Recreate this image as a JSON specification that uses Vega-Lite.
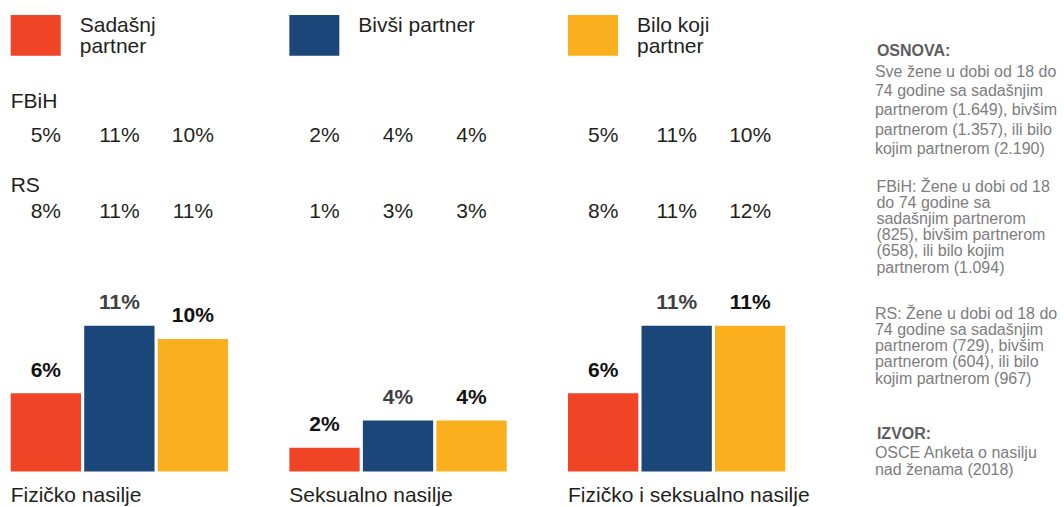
{
  "$schema": "https://vega.github.io/schema/vega-lite/v6.json",
  "width": 1064,
  "height": 507,
  "padding": 0,
  "autosize": {"type": "none"},
  "background": "white",
  "config": {"view": {"stroke": null}, "font": "Liberation Sans", "axis": {"disable": true}},
  "datasets": {
    "nasilje": [
      {"group": "Fizičko nasilje", "partner": "Sadašnji partner", "value": 0.059},
      {"group": "Fizičko nasilje", "partner": "Bivši partner", "value": 0.11},
      {"group": "Fizičko nasilje", "partner": "Bilo koji partner", "value": 0.10},
      {"group": "Seksualno nasilje", "partner": "Sadašnji partner", "value": 0.018},
      {"group": "Seksualno nasilje", "partner": "Bivši partner", "value": 0.0385},
      {"group": "Seksualno nasilje", "partner": "Bilo koji partner", "value": 0.0385},
      {"group": "Fizičko i seksualno nasilje", "partner": "Sadašnji partner", "value": 0.059},
      {"group": "Fizičko i seksualno nasilje", "partner": "Bivši partner", "value": 0.11},
      {"group": "Fizičko i seksualno nasilje", "partner": "Bilo koji partner", "value": 0.11}
    ],
    "regije": [
      {"region": "FBiH", "group": "Fizičko nasilje", "partner": "Sadašnji partner", "value": 0.05},
      {"region": "FBiH", "group": "Fizičko nasilje", "partner": "Bivši partner", "value": 0.11},
      {"region": "FBiH", "group": "Fizičko nasilje", "partner": "Bilo koji partner", "value": 0.10},
      {"region": "FBiH", "group": "Seksualno nasilje", "partner": "Sadašnji partner", "value": 0.02},
      {"region": "FBiH", "group": "Seksualno nasilje", "partner": "Bivši partner", "value": 0.04},
      {"region": "FBiH", "group": "Seksualno nasilje", "partner": "Bilo koji partner", "value": 0.04},
      {"region": "FBiH", "group": "Fizičko i seksualno nasilje", "partner": "Sadašnji partner", "value": 0.05},
      {"region": "FBiH", "group": "Fizičko i seksualno nasilje", "partner": "Bivši partner", "value": 0.11},
      {"region": "FBiH", "group": "Fizičko i seksualno nasilje", "partner": "Bilo koji partner", "value": 0.10},
      {"region": "RS", "group": "Fizičko nasilje", "partner": "Sadašnji partner", "value": 0.08},
      {"region": "RS", "group": "Fizičko nasilje", "partner": "Bivši partner", "value": 0.11},
      {"region": "RS", "group": "Fizičko nasilje", "partner": "Bilo koji partner", "value": 0.11},
      {"region": "RS", "group": "Seksualno nasilje", "partner": "Sadašnji partner", "value": 0.01},
      {"region": "RS", "group": "Seksualno nasilje", "partner": "Bivši partner", "value": 0.03},
      {"region": "RS", "group": "Seksualno nasilje", "partner": "Bilo koji partner", "value": 0.03},
      {"region": "RS", "group": "Fizičko i seksualno nasilje", "partner": "Sadašnji partner", "value": 0.08},
      {"region": "RS", "group": "Fizičko i seksualno nasilje", "partner": "Bivši partner", "value": 0.11},
      {"region": "RS", "group": "Fizičko i seksualno nasilje", "partner": "Bilo koji partner", "value": 0.12}
    ],
    "legenda": [
      {"partner": "Sadašnji partner", "label": "Sadašnj\npartner"},
      {"partner": "Bivši partner", "label": "Bivši partner"},
      {"partner": "Bilo koji partner", "label": "Bilo koji\npartner"}
    ],
    "napomene": [
      {"block": "osnova", "text": "OSNOVA:"},
      {"block": "osnova_tekst", "text": "Sve žene u dobi od 18 do\n74 godine sa sadašnjim\npartnerom (1.649), bivšim\npartnerom (1.357), ili bilo\nkojim partnerom (2.190)"},
      {"block": "fbih", "text": "FBiH: Žene u dobi od 18\ndo 74 godine sa\nsadašnjim partnerom\n(825), bivšim partnerom\n(658), ili bilo kojim\npartnerom (1.094)"},
      {"block": "rs", "text": "RS: Žene u dobi od 18 do\n74 godine sa sadašnjim\npartnerom (729), bivšim\npartnerom (604), ili bilo\nkojim partnerom (967)"},
      {"block": "izvor", "text": "IZVOR:"},
      {"block": "izvor_tekst", "text": "OSCE Anketa o nasilju\nnad ženama (2018)"}
    ]
  },
  "resolve": {"scale": {"x": "independent", "y": "independent"}},
  "layer": [
    {
      "data": {"name": "legenda"},
      "encoding": {
        "x": {"field": "partner", "type": "nominal", "scale": {"type": "point", "domain": ["Sadašnji partner", "Bivši partner", "Bilo koji partner"], "range": [10.7, 568], "padding": 0}, "axis": null},
        "y": {"datum": "legenda", "type": "nominal", "scale": {"type": "point", "range": [31.7, 31.7]}, "axis": null}
      },
      "layer": [
        {
          "mark": {"type": "point", "shape": "M0,-0.334H1V0.48H0Z", "size": 10000, "filled": true, "opacity": 1, "strokeWidth": 0},
          "encoding": {
            "color": {"field": "partner", "type": "nominal", "scale": {"domain": ["Sadašnji partner", "Bivši partner", "Bilo koji partner"], "range": ["#EF4426", "#1B4679", "#FAAF1F"]}, "legend": null}
          }
        },
        {
          "mark": {"type": "text", "align": "left", "baseline": "alphabetic", "dx": 69, "fontSize": 21, "lineBreak": "\n", "lineHeight": 21.5, "color": "#231f20"},
          "encoding": {"text": {"field": "label"}}
        }
      ]
    },
    {
      "resolve": {"scale": {"y": "independent"}},
      "layer": [
        {
          "data": {"name": "nasilje"},
          "layer": [
            {
              "mark": {"type": "bar"},
              "encoding": {
                "x": {"field": "group", "type": "nominal", "scale": {"type": "band", "domain": ["Fizičko nasilje", "Seksualno nasilje", "Fizičko i seksualno nasilje", "Napomene"], "range": [10.7, 1064], "paddingInner": 0.22, "paddingOuter": 0}, "axis": null},
                "xOffset": {"field": "partner", "type": "nominal", "scale": {"type": "band", "domain": ["Sadašnji partner", "Bivši partner", "Bilo koji partner"], "paddingInner": 0.0435, "paddingOuter": 0}},
                "y": {"field": "value", "type": "quantitative", "scale": {"domain": [0, 0.11], "range": [471.5, 325.7], "nice": false, "zero": true}, "axis": null},
                "color": {"field": "partner", "type": "nominal", "scale": {"domain": ["Sadašnji partner", "Bivši partner", "Bilo koji partner"], "range": ["#EF4426", "#1B4679", "#FAAF1F"]}, "legend": null}
              }
            },
            {
              "mark": {"type": "text", "align": "center", "baseline": "alphabetic", "dy": -16.5, "fontSize": 21, "fontWeight": "bold"},
              "encoding": {
                "x": {"field": "group", "type": "nominal", "scale": {"type": "band", "domain": ["Fizičko nasilje", "Seksualno nasilje", "Fizičko i seksualno nasilje", "Napomene"], "range": [10.7, 1064], "paddingInner": 0.22, "paddingOuter": 0}, "axis": null},
                "xOffset": {"field": "partner", "type": "nominal", "scale": {"type": "band", "domain": ["Sadašnji partner", "Bivši partner", "Bilo koji partner"], "paddingInner": 0.0435, "paddingOuter": 0}},
                "y": {"field": "value", "type": "quantitative", "scale": {"domain": [0, 0.11], "range": [471.5, 325.7], "nice": false, "zero": true}, "axis": null},
                "text": {"field": "value", "type": "quantitative", "format": ".0%"},
                "color": {"condition": {"test": "datum['partner'] === 'Bivši partner'", "value": "#414042"}, "value": "#111111"}
              }
            },
            {
              "transform": [{"filter": "datum['partner'] === 'Sadašnji partner'"}],
              "mark": {"type": "text", "align": "left", "baseline": "alphabetic", "dy": 30.2, "fontSize": 21, "color": "#231f20"},
              "encoding": {
                "x": {"field": "group", "type": "nominal", "bandPosition": 0, "scale": {"type": "band", "domain": ["Fizičko nasilje", "Seksualno nasilje", "Fizičko i seksualno nasilje", "Napomene"], "range": [10.7, 1064], "paddingInner": 0.22, "paddingOuter": 0}, "axis": null},
                "y": {"datum": 0, "type": "quantitative", "scale": {"domain": [0, 0.11], "range": [471.5, 325.7], "nice": false, "zero": true}, "axis": null},
                "text": {"field": "group", "type": "nominal"}
              }
            }
          ]
        },
        {
          "data": {"name": "regije"},
          "mark": {"type": "text", "align": "center", "baseline": "alphabetic", "fontSize": 21, "color": "#231f20"},
          "encoding": {
            "x": {"field": "group", "type": "nominal", "scale": {"type": "band", "domain": ["Fizičko nasilje", "Seksualno nasilje", "Fizičko i seksualno nasilje", "Napomene"], "range": [10.7, 1064], "paddingInner": 0.22, "paddingOuter": 0}, "axis": null},
            "xOffset": {"field": "partner", "type": "nominal", "scale": {"type": "band", "domain": ["Sadašnji partner", "Bivši partner", "Bilo koji partner"], "paddingInner": 0.0435, "paddingOuter": 0}},
            "y": {"field": "region", "type": "nominal", "scale": {"type": "point", "domain": ["FBiH", "RS"], "range": [142.3, 217.7], "padding": 0}, "axis": null},
            "text": {"field": "value", "type": "quantitative", "format": ".0%"}
          }
        },
        {
          "data": {"name": "regije"},
          "transform": [{"filter": "datum['group'] === 'Fizičko nasilje' && datum['partner'] === 'Sadašnji partner'"}],
          "mark": {"type": "text", "align": "left", "baseline": "alphabetic", "fontSize": 21, "color": "#231f20"},
          "encoding": {
            "x": {"field": "group", "type": "nominal", "bandPosition": 0, "scale": {"type": "band", "domain": ["Fizičko nasilje", "Seksualno nasilje", "Fizičko i seksualno nasilje", "Napomene"], "range": [10.7, 1064], "paddingInner": 0.22, "paddingOuter": 0}, "axis": null},
            "y": {"field": "region", "type": "nominal", "scale": {"type": "point", "domain": ["FBiH", "RS"], "range": [108.3, 191.7], "padding": 0}, "axis": null},
            "text": {"field": "region", "type": "nominal"}
          }
        },
        {
          "data": {"name": "napomene"},
          "transform": [{"filter": "datum['block'] === 'osnova'"}],
          "mark": {"type": "text", "align": "left", "baseline": "alphabetic", "dx": 2, "fontSize": 16, "fontWeight": "bold", "color": "#5e5e5e"},
          "encoding": {
            "x": {"datum": "Napomene", "type": "nominal", "bandPosition": 0.13, "scale": {"type": "band", "domain": ["Fizičko nasilje", "Seksualno nasilje", "Fizičko i seksualno nasilje", "Napomene"], "range": [10.7, 1064], "paddingInner": 0.22, "paddingOuter": 0}, "axis": null},
            "y": {"field": "block", "type": "nominal", "scale": {"type": "point", "range": [55.5, 55.5]}, "axis": null},
            "text": {"field": "text"}
          }
        },
        {
          "data": {"name": "napomene"},
          "transform": [{"filter": "datum['block'] === 'osnova_tekst'"}],
          "mark": {"type": "text", "align": "left", "baseline": "alphabetic", "fontSize": 16, "lineBreak": "\n", "lineHeight": 19.3, "color": "#7d7d7d"},
          "encoding": {
            "x": {"datum": "Napomene", "type": "nominal", "bandPosition": 0.13, "scale": {"type": "band", "domain": ["Fizičko nasilje", "Seksualno nasilje", "Fizičko i seksualno nasilje", "Napomene"], "range": [10.7, 1064], "paddingInner": 0.22, "paddingOuter": 0}, "axis": null},
            "y": {"field": "block", "type": "nominal", "scale": {"type": "point", "range": [76.7, 76.7]}, "axis": null},
            "text": {"field": "text"}
          }
        },
        {
          "data": {"name": "napomene"},
          "transform": [{"filter": "datum['block'] === 'fbih'"}],
          "mark": {"type": "text", "align": "left", "baseline": "alphabetic", "dx": 1.5, "fontSize": 16, "lineBreak": "\n", "lineHeight": 16.2, "color": "#7d7d7d"},
          "encoding": {
            "x": {"datum": "Napomene", "type": "nominal", "bandPosition": 0.13, "scale": {"type": "band", "domain": ["Fizičko nasilje", "Seksualno nasilje", "Fizičko i seksualno nasilje", "Napomene"], "range": [10.7, 1064], "paddingInner": 0.22, "paddingOuter": 0}, "axis": null},
            "y": {"field": "block", "type": "nominal", "scale": {"type": "point", "range": [191.7, 191.7]}, "axis": null},
            "text": {"field": "text"}
          }
        },
        {
          "data": {"name": "napomene"},
          "transform": [{"filter": "datum['block'] === 'rs'"}],
          "mark": {"type": "text", "align": "left", "baseline": "alphabetic", "fontSize": 16, "lineBreak": "\n", "lineHeight": 16.3, "color": "#7d7d7d"},
          "encoding": {
            "x": {"datum": "Napomene", "type": "nominal", "bandPosition": 0.13, "scale": {"type": "band", "domain": ["Fizičko nasilje", "Seksualno nasilje", "Fizičko i seksualno nasilje", "Napomene"], "range": [10.7, 1064], "paddingInner": 0.22, "paddingOuter": 0}, "axis": null},
            "y": {"field": "block", "type": "nominal", "scale": {"type": "point", "range": [318.5, 318.5]}, "axis": null},
            "text": {"field": "text"}
          }
        },
        {
          "data": {"name": "napomene"},
          "transform": [{"filter": "datum['block'] === 'izvor'"}],
          "mark": {"type": "text", "align": "left", "baseline": "alphabetic", "dx": 2, "fontSize": 16, "fontWeight": "bold", "color": "#5e5e5e"},
          "encoding": {
            "x": {"datum": "Napomene", "type": "nominal", "bandPosition": 0.13, "scale": {"type": "band", "domain": ["Fizičko nasilje", "Seksualno nasilje", "Fizičko i seksualno nasilje", "Napomene"], "range": [10.7, 1064], "paddingInner": 0.22, "paddingOuter": 0}, "axis": null},
            "y": {"field": "block", "type": "nominal", "scale": {"type": "point", "range": [438.5, 438.5]}, "axis": null},
            "text": {"field": "text"}
          }
        },
        {
          "data": {"name": "napomene"},
          "transform": [{"filter": "datum['block'] === 'izvor_tekst'"}],
          "mark": {"type": "text", "align": "left", "baseline": "alphabetic", "fontSize": 16, "lineBreak": "\n", "lineHeight": 17, "color": "#7d7d7d"},
          "encoding": {
            "x": {"datum": "Napomene", "type": "nominal", "bandPosition": 0.13, "scale": {"type": "band", "domain": ["Fizičko nasilje", "Seksualno nasilje", "Fizičko i seksualno nasilje", "Napomene"], "range": [10.7, 1064], "paddingInner": 0.22, "paddingOuter": 0}, "axis": null},
            "y": {"field": "block", "type": "nominal", "scale": {"type": "point", "range": [457.5, 457.5]}, "axis": null},
            "text": {"field": "text"}
          }
        }
      ]
    }
  ]
}
